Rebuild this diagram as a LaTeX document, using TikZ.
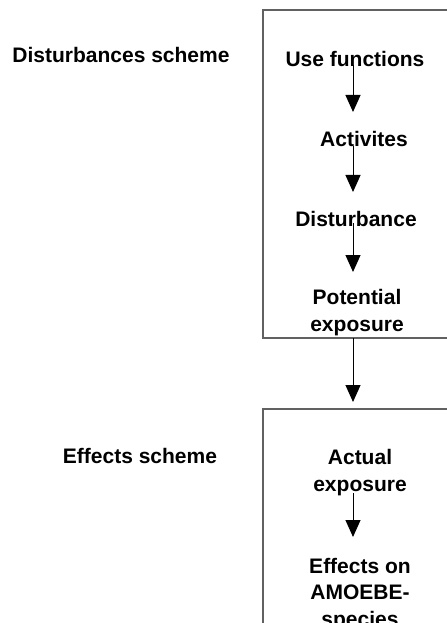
\documentclass[tikz,border=0pt]{standalone}
\usepackage{fontspec}
\setmainfont{Liberation Sans}
\usetikzlibrary{arrows.meta}
\begin{document}
\begin{tikzpicture}[x=1bp,y=-1bp,
  lbl/.style={font=\bfseries\fontsize{21bp}{26.5bp}\selectfont, inner sep=0pt, align=center, anchor=base},
  frame/.style={draw=black!62, line width=1.1bp},
  arr/.style={draw=black, line width=1bp, -{Triangle[width=15bp,length=17bp]}}]
\useasboundingbox (0,0) rectangle (447,623);
\clip (0,0) rectangle (447,623);
% frames
\draw[frame] (460,10) -- (263,10) -- (263,338) -- (460,338);
\draw[frame] (460,409) -- (263,409) -- (263,640);
% side labels
\node[lbl] (ds) at (121,63) {Disturbances scheme};
\node[lbl] (es) at (140,463) {Effects scheme};
% chain labels (base = baseline of last line)
\node[lbl] (uf) at (355,67) {Use functions};
\node[lbl] (ac) at (364,147) {Activites};
\node[lbl] (di) at (356,226) {Disturbance};
\node[lbl] (pe) at (357,331) {Potential\\exposure};
\node[lbl] (ae) at (360,491) {Actual\\exposure};
\node[lbl] (ef) at (360,626) {Effects on\\AMOEBE-\\species};
% arrow endpoints
\coordinate (s1) at (353,65);  \coordinate (t1) at (353,112);
\coordinate (s2) at (353,146); \coordinate (t2) at (353,192);
\coordinate (s3) at (353,223); \coordinate (t3) at (353,272);
\coordinate (s4) at (353,338); \coordinate (t4) at (353,402);
\coordinate (s5) at (353,493); \coordinate (t5) at (353,537);
\draw[arr] (s1) -- (t1);
\draw[arr] (s2) -- (t2);
\draw[arr] (s3) -- (t3);
\draw[arr] (s4) -- (t4);
\draw[arr] (s5) -- (t5);
\end{tikzpicture}
\end{document}
